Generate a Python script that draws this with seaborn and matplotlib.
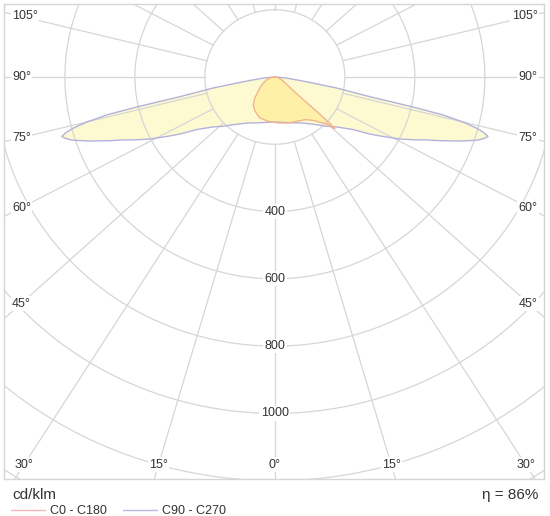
"""
Curva fotométrica polar (cd/klm) con planos C0-C180 y C90-C270.
"""

import numpy as np
import matplotlib
matplotlib.use("Agg")
import matplotlib.pyplot as plt
from matplotlib.lines import Line2D
import seaborn as sns

# Datos (ángulo gamma en grados, intensidad en cd/klm)
c90_gamma = [0, 10, 20, 30, 40, 45, 50, 55, 58, 60, 62.7, 65, 66.7, 68, 70.2, 72, 73, 73.8, 74.5, 75.2,
             76, 76.8, 77.3, 77.8, 79.5, 81.5, 85, 90]
c90_int = [134, 137, 145, 158, 185, 207, 231, 272, 320, 352, 402, 442, 473, 505, 562, 608, 625, 634, 620, 597,
           555, 493, 400, 280, 180, 81, 30, 0]

c0_gamma = [-90, -80, -71, -60, -52.7, -42.5, -37, -29.5, -19.4, -8.3, 0, 4, 15.5, 26.8, 34, 38, 41.3, 44,
            46.3, 47.5, 48.2, 48.8, 49.4, 50.2, 52, 55, 60, 67, 80, 90]
c0_int = [0, 12, 25, 40, 54, 85, 103, 116, 129, 133, 135, 137, 142, 147, 153, 162, 173, 188,
          200, 218, 230, 205, 160, 110, 70, 48, 32, 20, 8, 0]

radios = [200, 400, 600, 800, 1000, 1200, 1400, 1600, 1800]
radios_etiqueta = [400, 600, 800, 1000]
angulos_etiqueta = [0, 15, 30, 45, 60, 75, 90, 105]
leyenda = ["C0 - C180", "C90 - C270"]
eficiencia = "η = 86%"
unidad = "cd/klm"

GRIS = "#d6d6d6"
TEXTO = "#333333"
STRETCH = 1.077  # las líneas radiales del original salen algo abiertas


def polar_xy(gamma, inten):
    g = np.radians(np.asarray(gamma, dtype=float))
    r = np.asarray(inten, dtype=float)
    return r * np.sin(g), -r * np.cos(g)


def main():
    sns.set_style("white")
    plt.rcParams["font.family"] = ["Liberation Sans", "DejaVu Sans"]

    fig = plt.figure(figsize=(5.5, 5.16), dpi=100)
    ax = fig.add_axes([4 / 550, 37 / 516, 540 / 550, 475 / 516])
    ax.set_xlim(-774, 769)
    ax.set_ylim(-1195, 217)
    ax.set_xticks([])
    ax.set_yticks([])
    for s in ax.spines.values():
        s.set_color(GRIS)
        s.set_linewidth(1)

    # Círculos
    t = np.linspace(0, 2 * np.pi, 400)
    for r in radios:
        ax.plot(r * np.sin(t), r * np.cos(t), color=GRIS, lw=0.9, zorder=2)

    # Líneas radiales desde el círculo interior
    for a in range(0, 360, 15):
        g = np.radians(a)
        d = np.array([STRETCH * np.sin(g), -np.cos(g)])
        d = d / np.linalg.norm(d)
        ax.plot([200 * d[0], 3000 * d[0]], [200 * d[1], 3000 * d[1]], color=GRIS, lw=0.9, zorder=2)

    # Curvas
    g90 = np.array(c90_gamma)
    i90 = np.array(c90_int)
    full_g90 = np.concatenate([-g90[::-1], g90[1:]])
    full_i90 = np.concatenate([i90[::-1], i90[1:]])
    x90, y90 = polar_xy(full_g90, full_i90)
    x0, y0 = polar_xy(c0_gamma, c0_int)

    ax.fill(x90, y90, color="#fdf9c4", alpha=0.75, lw=0, zorder=1)
    ax.fill(x0, y0, color="#fff0a0", alpha=0.85, lw=0, zorder=1.5)
    sns.lineplot(x=x90, y=y90, sort=False, estimator=None, color="#b4b2dc", lw=1, ax=ax, zorder=3)
    sns.lineplot(x=x0, y=y0, sort=False, estimator=None, color="#f2b48e", lw=1, ax=ax, zorder=3)

    # Etiquetas de intensidad
    for r in radios_etiqueta:
        ax.text(0, -r, str(r), ha="center", va="center", fontsize=9, color=TEXTO, zorder=5,
                bbox=dict(fc="white", ec="none", pad=1))

    # Etiquetas de ángulo en el borde
    xl, yb, xt = 726, 1153, 751
    for a in angulos_etiqueta:
        for lado in ([1] if a == 0 else [-1, 1]):
            g = np.radians(a)
            dx, dy = lado * STRETCH * np.sin(g), -np.cos(g)
            ts = xl / abs(dx) if abs(dx) > 1e-9 else np.inf
            tb = yb / -dy if dy < 0 else np.inf
            if tb <= ts:
                ax.text(tb * dx, -yb, f"{a}°", ha="center", va="center", fontsize=9, color=TEXTO,
                        zorder=5, bbox=dict(fc="white", ec="none", pad=1))
            else:
                ax.text(lado * xt, ts * dy, f"{a}°", ha="left" if lado < 0 else "right", va="center",
                        fontsize=9, color=TEXTO, zorder=5, bbox=dict(fc="white", ec="none", pad=1))

    # Textos inferiores
    fig.text(12 / 550, 1 - 495 / 516, unidad, ha="left", va="center", fontsize=11, color=TEXTO)
    fig.text(538 / 550, 1 - 495 / 516, eficiencia, ha="right", va="center", fontsize=11, color=TEXTO)

    handles = [Line2D([], [], color="#f5b4b4", lw=1), Line2D([], [], color="#b8b8e8", lw=1)]
    fig.legend(handles, leyenda, loc="center left", bbox_to_anchor=(11 / 550, 1 - 511.5 / 516),
               ncol=2, frameon=False, fontsize=9, handlelength=2.7, handletextpad=0.4,
               columnspacing=1.3, borderpad=0, borderaxespad=0, labelcolor=TEXTO)

    fig.savefig("out.png", dpi=100)


if __name__ == "__main__":
    main()
